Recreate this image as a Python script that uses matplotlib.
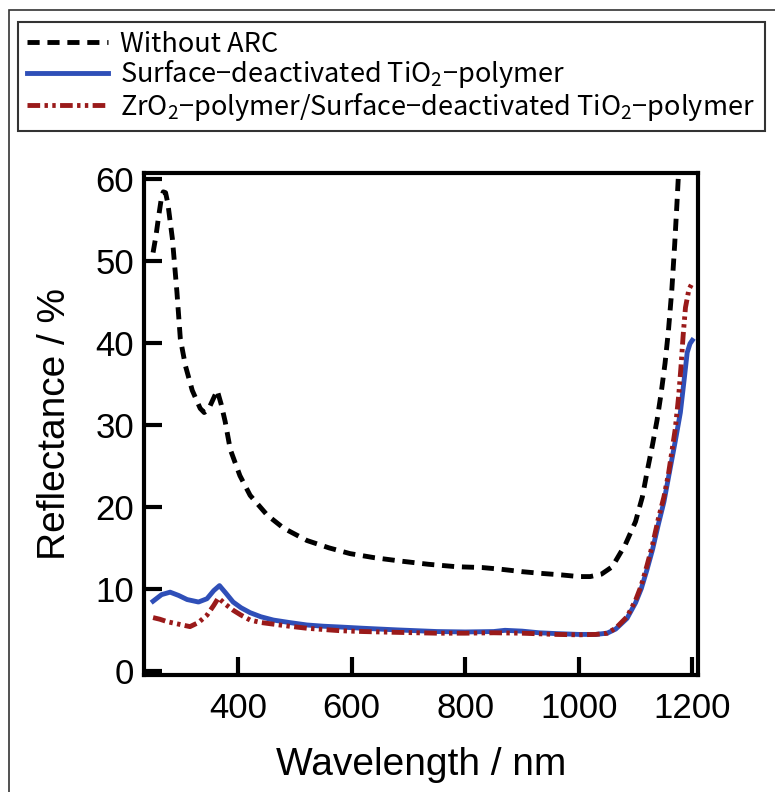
import numpy as np
import matplotlib
matplotlib.use('Agg')
import matplotlib.pyplot as plt
from matplotlib.patches import Rectangle

plt.rcParams['mathtext.fontset'] = 'custom'
plt.rcParams['mathtext.rm'] = 'Noto Sans CJK JP'

# reflectance spectra
wl_bare = [250, 255, 260, 265, 268, 272, 276, 284, 292, 298, 307, 319, 333, 340, 347,
           355, 363, 370, 377, 386, 403, 421, 451, 480, 521, 560, 597, 640, 685, 735,
           785, 830, 862, 900, 932, 970, 1000, 1020, 1040, 1059, 1082, 1100, 1112, 1121,
           1130, 1138, 1145, 1152, 1158, 1164, 1169, 1173, 1176]
r_bare = [51, 53, 55.5, 57.8, 58.4, 58.3, 57, 52.7, 46.2, 40.5, 37.2, 34.2, 32, 31.5, 31.8,
          33, 34.2, 32.5, 30.4, 27, 23.8, 21.4, 19, 17.4, 15.9, 15.0, 14.3, 13.8, 13.4, 13.0,
          12.7, 12.6, 12.4, 12.1, 11.9, 11.7, 11.5, 11.5, 11.8, 12.7, 15.4, 18.2, 21.2, 24.5,
          27.6, 30.6, 33.8, 37.5, 41.5, 46.5, 52, 57, 61]

wl_tio2 = [250, 265, 280, 295, 310, 330, 345, 357, 367, 378, 391, 405, 421, 440, 462, 490,
           521, 550, 580, 620, 680, 750, 800, 850, 870, 900, 930, 960, 1000, 1030, 1050,
           1065, 1085, 1100, 1110, 1120, 1130, 1140, 1150, 1160, 1170, 1179, 1186, 1191,
           1196, 1200]
r_tio2 = [8.5, 9.3, 9.6, 9.2, 8.7, 8.4, 8.8, 9.8, 10.4, 9.5, 8.4, 7.7, 7.1, 6.6, 6.2, 5.9,
          5.6, 5.45, 5.35, 5.2, 5.0, 4.8, 4.75, 4.8, 4.95, 4.85, 4.65, 4.55, 4.45, 4.45, 4.6,
          5.1, 6.4, 8.3, 10.0, 12.3, 14.8, 17.8, 20.6, 24.3, 28, 31.5, 35.7, 38.8,
          39.9, 40.3]

wl_zro2 = [250, 262, 275, 295, 315, 330, 345, 357, 365, 378, 391, 405, 421, 440, 462, 490,
           521, 550, 580, 620, 680, 750, 800, 850, 900, 960, 1000, 1030, 1050, 1065, 1085,
           1100, 1110, 1120, 1130, 1140, 1150, 1158, 1165, 1170, 1176, 1180, 1184, 1188,
           1194, 1200]
r_zro2 = [6.5, 6.3, 6.0, 5.7, 5.4, 5.9, 6.8, 8.0, 8.9, 8.1, 7.4, 6.8, 6.2, 5.9, 5.7, 5.45,
          5.2, 5.05, 4.9, 4.8, 4.7, 4.6, 4.6, 4.65, 4.6, 4.45, 4.4, 4.45, 4.6, 5.2, 6.6,
          8.6, 10.4, 12.8, 15.4, 18.5, 21.2, 24, 27.2, 29.5, 33.5, 37, 41, 44.3,
          46.5, 47.3]

labels = ['Without ARC',
          'Surface−deactivated TiO$_2$−polymer',
          'ZrO$_2$−polymer/Surface−deactivated TiO$_2$−polymer']
xticks = [400, 600, 800, 1000, 1200]
yticks = [0, 10, 20, 30, 40, 50, 60]

fig = plt.figure(figsize=(7.75, 7.92), dpi=100)
ax = fig.add_axes([0.1858, 0.1477, 0.7148, 0.6339])

l1, = ax.plot(wl_bare, r_bare, color='black', lw=3.5, dashes=(2.5, 1.6))
l2, = ax.plot(wl_tio2, r_tio2, color='#2f4fb8', lw=3.5)
l3, = ax.plot(wl_zro2, r_zro2, color='#9a1a1a', lw=3.5, dashes=(2.6, 0.9, 0.7, 0.9, 0.7, 0.9))

ax.set_xlim(234, 1210)
ax.set_ylim(-0.5, 60.7)
ax.set_xticks(xticks)
ax.set_yticks(yticks)
for s in ax.spines.values():
    s.set_linewidth(3)
ax.tick_params(direction='in', length=13, width=3, labelsize=25)
ax.tick_params(axis='x', pad=12)
ax.tick_params(axis='y', pad=7)
for t in ax.get_xticklabels() + ax.get_yticklabels():
    t.set_family('Liberation Sans')

ax.set_xlabel('Wavelength / nm', fontsize=28, family='Liberation Sans', labelpad=16)
ax.set_ylabel('Reflectance / %', fontsize=28, family='Liberation Sans', labelpad=16)

leg = fig.legend([l1, l2, l3], labels, loc='upper left',
                 bbox_to_anchor=(18 / 775, 1 - 130 / 792, 747 / 775, 108 / 792),
                 mode='expand', borderaxespad=0, fancybox=False, frameon=True,
                 edgecolor='black', handlelength=3.0, handletextpad=0.45,
                 labelspacing=0.02, borderpad=0.32,
                 prop={'family': ['Noto Sans CJK JP', 'DejaVu Sans'], 'size': 19.5})
leg.get_frame().set_linewidth(1.5)

# outer frame of the original figure (only left/top edges visible)
fig.add_artist(Rectangle((9 / 775, -0.1), 1.2, 1 - 10 / 792 + 0.1,
                         transform=fig.transFigure, fill=False, lw=1.2, ec='#333333'))

fig.savefig('out.png', dpi=100)
